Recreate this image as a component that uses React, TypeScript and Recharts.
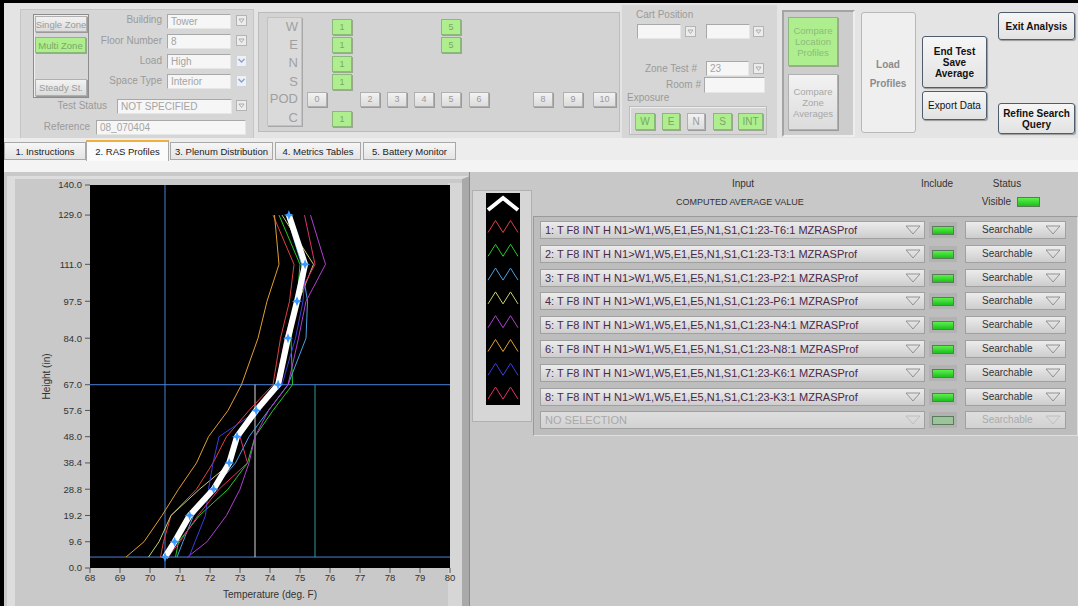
import React from "react";
import { LineChart, Line, XAxis, YAxis, CartesianGrid, ReferenceLine, Label } from "recharts";

// profile heights (in) and temperatures (deg F)
const heights = [4, 9.6, 19.2, 28.8, 38.4, 48.0, 57.6, 67.0, 84.0, 97.5, 111.0, 129.0];
const averageTemps = [70.5, 70.82, 71.32, 72.12, 72.64, 72.9, 73.54, 74.27, 74.6, 74.9, 75.17, 74.63];
const t6Temps = [70.35, 70.45, 70.7, 71.55, 72.1, 72.55, 73.3, 74.1, 74.35, 74.65, 74.8, 74.1];
const t3Temps = [70.85, 70.95, 71.65, 72.6, 73.25, 73.5, 74.1, 74.75, 74.7, 74.9, 75.0, 74.3];
const p2Temps = [70.9, 71.1, 71.45, 72.1, 72.85, 73.3, 73.95, 74.6, 75.2, 75.25, 75.05, 74.55];
const p6Temps = [69.95, 70.3, 70.7, 71.65, 72.7, 72.95, 73.6, 74.3, 74.6, 74.95, 75.45, 74.4];
const n4Temps = [71.25, 71.9, 72.55, 73.0, 73.3, 73.5, 73.95, 74.6, 74.95, 75.2, 75.85, 75.35];
const n8Temps = [69.2, 69.8, 70.4, 70.95, 71.55, 71.95, 72.6, 73.05, 73.6, 73.9, 74.3, 74.15];
const k6Temps = [71.3, 71.5, 71.85, 71.95, 72.1, 72.3, 73.6, 74.4, 74.85, 75.1, 75.2, 74.6];
const k3Temps = [70.6, 71.0, 71.6, 72.3, 73.25, 73.0, 73.5, 74.2, 74.5, 74.85, 75.5, 75.15];

const profileNames = [
  "1: T F8 INT H N1>W1,W5,E1,E5,N1,S1,C1:23-T6:1 MZRASProf",
  "2: T F8 INT H N1>W1,W5,E1,E5,N1,S1,C1:23-T3:1 MZRASProf",
  "3: T F8 INT H N1>W1,W5,E1,E5,N1,S1,C1:23-P2:1 MZRASProf",
  "4: T F8 INT H N1>W1,W5,E1,E5,N1,S1,C1:23-P6:1 MZRASProf",
  "5: T F8 INT H N1>W1,W5,E1,E5,N1,S1,C1:23-N4:1 MZRASProf",
  "6: T F8 INT H N1>W1,W5,E1,E5,N1,S1,C1:23-N8:1 MZRASProf",
  "7: T F8 INT H N1>W1,W5,E1,E5,N1,S1,C1:23-K6:1 MZRASProf",
  "8: T F8 INT H N1>W1,W5,E1,E5,N1,S1,C1:23-K3:1 MZRASProf",
];
const profileTemps = [t6Temps, t3Temps, p2Temps, p6Temps, n4Temps, n8Temps, k6Temps, k3Temps];
const seriesColors = ["#e04040", "#22cc22", "#4aa0e0", "#c8d070", "#b040d0", "#e0a030", "#3c3ce0", "#e0306a"];

const yTicks = [0, 9.6, 19.2, 28.8, 38.4, 48.0, 57.6, 67.0, 84.0, 97.5, 111.0, 129.0, 140.0];
const xTicks = [68, 69, 70, 71, 72, 73, 74, 75, 76, 77, 78, 79, 80];

// cursors on the graph
const cursorTemp = 70.5;
const cursorLow = 4;
const cursorHigh = 67;
const limitTemps = [73.5, 75.5];

const chartData = heights.map((h, i) => {
  const row: Record<string, number> = { h, avg: averageTemps[i] };
  profileTemps.forEach((t, k) => { row["s" + k] = t[i]; });
  return row;
});

const FONT = "'Liberation Sans', Arial, sans-serif";

function abs(x: number, y: number, w: number, h: number, extra: React.CSSProperties = {}): React.CSSProperties {
  return { position: "absolute", left: x, top: y, width: w, height: h, boxSizing: "border-box", ...extra };
}

const center: React.CSSProperties = { display: "flex", alignItems: "center", justifyContent: "center", textAlign: "center" };

function Txt({ x, y, text, size = 10, color = "#9a9a9a", align = "right", w = 100, bold = false }: any) {
  const left = align === "right" ? x - w : align === "center" ? x - w / 2 : x;
  return (
    <div style={abs(left, y - 7, w, 14, { fontSize: size, color, textAlign: align, lineHeight: "14px", whiteSpace: "nowrap", fontWeight: bold ? "bold" : "normal" })}>
      {text}
    </div>
  );
}

function Field({ x, y, w, h = 15, text = "" }: any) {
  return (
    <div style={abs(x, y, w, h, {
      background: "#f6f6f6", border: "1px solid", borderColor: "#a8a8a8 #e6e6e6 #e6e6e6 #a8a8a8",
      fontSize: 10, color: "#a4a4a4", paddingLeft: 3, lineHeight: h - 2 + "px", whiteSpace: "nowrap",
    })}>{text}</div>
  );
}

function RingArrow({ x, y }: any) {
  return (
    <div style={abs(x, y, 11, 11, { background: "#ececec", border: "1px solid #b4b4b4" })}>
      <svg width={9} height={9} style={{ position: "absolute", left: 0, top: 0 }}>
        <path d="M2,3 L7,3 L4.5,6.5 Z" fill="none" stroke="#a0a0a0" strokeWidth={0.8} />
      </svg>
    </div>
  );
}

function ComboArrow({ x, y }: any) {
  return (
    <div style={abs(x, y, 11, 12, { background: "#eef0f4", border: "1px solid #d0d4dc" })}>
      <svg width={9} height={10} style={{ position: "absolute", left: 0, top: 0 }}>
        <polyline points="1.5,3 4.5,6 7.5,3" fill="none" stroke="#8aa0cc" strokeWidth={1.4} />
      </svg>
    </div>
  );
}

function GrayBtn({ x, y, w, h, text, size = 10, color = "#9a9a9a" }: any) {
  return (
    <div style={abs(x, y, w, h, {
      ...center, background: "linear-gradient(#f2f2f2, #dcdcdc)", border: "1px solid #b0b0b0",
      boxShadow: "1px 1px 0 #9a9a9a", fontSize: size, color, lineHeight: "11px", whiteSpace: "nowrap",
    })}>{text}</div>
  );
}

function GreenBtn({ x, y, w, h, text, size = 10, color = "#78a868" }: any) {
  return (
    <div style={abs(x, y, w, h, {
      ...center, background: "#aeee8e", border: "1px solid #8cb87c",
      boxShadow: "1px 1px 0 #9aa890", fontSize: size, color, lineHeight: "11px", whiteSpace: "nowrap",
    })}>{text}</div>
  );
}

function Button({ x, y, w, h, lines, bold = true, color = "#111", size = 10 }: any) {
  return (
    <div style={abs(x, y, w, h, {
      ...center, flexDirection: "column", background: "linear-gradient(#f6f6f6, #e2e2e2)",
      border: "1px solid #4e5c6c", borderRadius: 3, boxShadow: "1px 1px 1px #9a9a9a",
      fontSize: size, fontWeight: bold ? "bold" : "normal", color, lineHeight: "11px",
    })}>
      {lines.map((l: string) => <div key={l}>{l}</div>)}
    </div>
  );
}

function Triangle({ x, y, color = "#8a8a8a" }: any) {
  return (
    <svg width={16} height={12} style={{ position: "absolute", left: x, top: y }}>
      <path d="M1,2 L15,2 L8,10 Z" fill="none" stroke={color} strokeWidth={0.9} />
    </svg>
  );
}

function StarDot(props: any) {
  const { cx, cy, index } = props;
  if (cx == null || cy == null) return <g key={index} />;
  const r = 5, q = 1.4;
  const d = `M${cx},${cy - r} L${cx + q},${cy - q} L${cx + r},${cy} L${cx + q},${cy + q} L${cx},${cy + r} L${cx - q},${cy + q} L${cx - r},${cy} L${cx - q},${cy - q} Z`;
  return <path key={index} d={d} fill="#3a9cff" />;
}

function ProfileChart() {
  return (
    <LineChart
      width={460}
      height={431}
      data={chartData}
      layout="vertical"
      margin={{ top: 10, right: 20, left: 20, bottom: 8 }}
      style={{ fontFamily: FONT }}
    >
      <CartesianGrid fill="#000" horizontal={false} vertical={false} />
      <XAxis
        type="number"
        domain={[68, 80]}
        ticks={xTicks}
        interval={0}
        allowDataOverflow
        axisLine={false}
        tickSize={5}
        tickMargin={1}
        height={30}
        tickLine={{ stroke: "#555" }}
        tick={{ fontSize: 9.5, fill: "#333" }}
      >
        <Label value="Temperature (deg. F)" position="insideBottom" offset={0} style={{ fontSize: 10, fill: "#333" }} />
      </XAxis>
      <YAxis
        type="number"
        dataKey="h"
        domain={[0, 140]}
        ticks={yTicks}
        interval={0}
        reversed
        allowDataOverflow
        width={60}
        axisLine={false}
        tickSize={5}
        tickMargin={3}
        tickLine={{ stroke: "#555" }}
        tick={{ fontSize: 9.5, fill: "#333" }}
        tickFormatter={(v: number) => v.toFixed(1)}
      >
        <Label value="Height (in)" angle={-90} position="insideLeft" offset={16} style={{ fontSize: 10, fill: "#333", textAnchor: "middle" }} />
      </YAxis>
      <ReferenceLine x={cursorTemp} stroke="#4a80d8" strokeWidth={1} />
      <ReferenceLine y={cursorHigh} stroke="#4a80d8" strokeWidth={1} />
      <ReferenceLine y={cursorLow} stroke="#4a80d8" strokeWidth={1} />
      <ReferenceLine segment={[{ x: limitTemps[0], y: cursorLow }, { x: limitTemps[0], y: cursorHigh }]} stroke="#d8d8d8" />
      <ReferenceLine segment={[{ x: limitTemps[1], y: cursorLow }, { x: limitTemps[1], y: cursorHigh }]} stroke="#2f9a9a" />
      {profileTemps.map((_, k) => (
        <Line
          key={k}
          dataKey={"s" + k}
          type="linear"
          stroke={seriesColors[k]}
          strokeWidth={1}
          dot={false}
          activeDot={false}
          isAnimationActive={false}
        />
      ))}
      <Line
        dataKey="avg"
        type="linear"
        stroke="#ffffff"
        strokeWidth={6}
        dot={StarDot}
        activeDot={false}
        isAnimationActive={false}
      />
    </LineChart>
  );
}

function Legend() {
  const rowY = (i: number) => 33.5 + i * 23.8;
  return (
    <svg width={34} height={212} style={{ position: "absolute", left: 486, top: 193 }}>
      <polyline points="2,17 17,5 32,17" fill="none" stroke="#fff" strokeWidth={4} />
      {seriesColors.map((c, i) => {
        const cy = rowY(i);
        return (
          <polyline
            key={c}
            points={`2,${cy + 6} 9.5,${cy - 6} 17,${cy + 6} 24.5,${cy - 6} 32,${cy + 6}`}
            fill="none"
            stroke={c}
            strokeWidth={1}
          />
        );
      })}
    </svg>
  );
}

const podButtons = [
  { t: "0", x: 307 }, { t: "2", x: 360 }, { t: "3", x: 387 }, { t: "4", x: 414 }, { t: "5", x: 441 },
  { t: "6", x: 469 }, { t: "8", x: 533 }, { t: "9", x: 563 }, { t: "10", x: 593 },
];
const tabs = [
  { t: "1. Instructions", x: 4, w: 82 },
  { t: "2. RAS Profiles", x: 86, w: 83 },
  { t: "3. Plenum Distribution", x: 170, w: 103 },
  { t: "4. Metrics Tables", x: 275, w: 86 },
  { t: "5. Battery Monitor", x: 363, w: 93 },
];

export default function App() {
  const rowTop = (i: number) => Math.round(221 + i * 23.8);
  return (
    <div style={{ position: "fixed", left: 0, top: 0, width: 1078, height: 606, overflow: "hidden", background: "#e4e4e4", fontFamily: FONT }}>
      <div style={abs(0, 0, 1078, 3, { background: "#000" })} />
      <div style={abs(0, 0, 4, 606, { background: "#000" })} />

      {/* search settings */}
      <div style={abs(20, 9, 234, 130, { background: "#d6d6d6", border: "1px solid #c6c6c6" })} />
      <div style={abs(33, 14, 56, 84, { border: "1px solid #8c8c8c", boxShadow: "inset 1px 1px 0 #eee" })} />
      <GrayBtn x={35} y={16} w={52} h={16} text="Single Zone" size={9.5} />
      <GreenBtn x={35} y={37} w={51} h={16} text="Multi Zone" size={9.5} />
      <GrayBtn x={35} y={79} w={52} h={17} text="Steady St." size={9.5} />
      <Txt x={162} y={20} text="Building" />
      <Field x={167} y={14} w={64} text="Tower" />
      <RingArrow x={236} y={15} />
      <Txt x={162} y={41} text="Floor Number" />
      <Field x={167} y={34} w={64} text="8" />
      <RingArrow x={236} y={35} />
      <Txt x={162} y={61} text="Load" />
      <Field x={167} y={54} w={64} text="High" />
      <ComboArrow x={236} y={55} />
      <Txt x={162} y={81} text="Space Type" />
      <Field x={167} y={74} w={64} text="Interior" />
      <ComboArrow x={236} y={75} />
      <Txt x={107} y={106} text="Test Status" />
      <Field x={117} y={99} w={115} text="NOT SPECIFIED" />
      <RingArrow x={236} y={100} />
      <Txt x={90} y={127} text="Reference" />
      <Field x={96} y={120} w={150} text="08_070404" />

      {/* location grid */}
      <div style={abs(258, 12, 362, 120, { background: "#d3d3d3", border: "1px solid #bcbcbc" })} />
      <div style={abs(267, 17, 35, 109, { background: "#dadada", border: "1px solid #c2c2c2", boxShadow: "1px 1px 0 #a8a8a8" })} />
      {[["W", 27], ["E", 45], ["N", 63], ["S", 82], ["POD", 99], ["C", 118]].map(([t, y]) => (
        <Txt key={t as string} x={298} y={y} text={t} size={13} color="#a0a0a0" w={34} />
      ))}
      {[19, 37, 56, 74, 111].map((y) => <GreenBtn key={y} x={332} y={y} w={20} h={16} text="1" size={9} />)}
      {[19, 37].map((y) => <GreenBtn key={y} x={441} y={y} w={20} h={16} text="5" size={9} />)}
      {podButtons.map((b) => <GrayBtn key={b.t} x={b.x} y={92} w={b.t === "10" ? 23 : 20} h={15} text={b.t} size={9} />)}

      {/* cart position */}
      <div style={abs(622, 5, 155, 133, { background: "#d6d6d6" })} />
      <Txt x={636} y={15} text="Cart Position" align="left" />
      <Field x={637} y={24} w={44} h={15} />
      <RingArrow x={685} y={26} />
      <Field x={706} y={24} w={44} h={15} />
      <RingArrow x={753} y={26} />
      <Txt x={697} y={69} text="Zone Test #" />
      <Field x={706} y={61} w={43} h={15} text="23" />
      <RingArrow x={753} y={63} />
      <Txt x={701} y={85} text="Room #" />
      <Field x={704} y={77} w={61} h={16} />
      <Txt x={627} y={98} text="Exposure" align="left" />
      <div style={abs(629, 106, 138, 29, { border: "1px solid #bcbcbc", boxShadow: "inset 1px 1px 0 #eee" })} />
      <GreenBtn x={635} y={113} w={20} h={17} text="W" />
      <GreenBtn x={662} y={113} w={18} h={17} text="E" />
      <GrayBtn x={687} y={113} w={18} h={17} text="N" />
      <GreenBtn x={713} y={113} w={19} h={17} text="S" />
      <GreenBtn x={738} y={113} w={25} h={17} text="INT" />

      {/* compare */}
      <div style={abs(782, 10, 73, 127, { background: "#cdcdcd", border: "2px solid", borderColor: "#a4a4a4 #eeeeee #eeeeee #a4a4a4" })} />
      <GreenBtn x={788} y={17} w={50} h={49} text={<span>Compare<br />Location<br />Profiles</span>} size={9.5} color="#8cbc7c" />
      <GrayBtn x={788} y={74} w={50} h={56} text={<span>Compare<br />Zone<br />Averages</span>} size={9.5} color="#a8a8a8" />
      <div style={abs(861, 12, 55, 121, { background: "#efefef", border: "1px solid #b8b8b8", borderRadius: 3 })} />
      <Txt x={888} y={65} text="Load" align="center" bold color="#8c8c8c" w={54} />
      <Txt x={888} y={84} text="Profiles" align="center" bold color="#8c8c8c" w={54} />
      <Button x={922} y={36} w={65} h={52} lines={["End Test", "Save", "Average"]} />
      <Button x={922} y={91} w={65} h={29} lines={["Export Data"]} bold={false} />
      <Button x={998} y={12} w={77} h={28} lines={["Exit Analysis"]} />
      <Button x={998} y={103} w={77} h={31} lines={["Refine Search", "Query"]} />

      {/* tabs */}
      <div style={abs(4, 138, 1074, 23, { background: "#ededed" })} />
      <div style={abs(4, 160, 1074, 12, { background: "#f4f4f4" })} />
      {tabs.map((t, i) => {
        const sel = i === 1;
        return (
          <div key={t.t} style={abs(t.x, sel ? 140 : 142, t.w, sel ? 21 : 18, {
            ...center, background: sel ? "#fbfbfb" : "linear-gradient(#f6f6f6, #e4e4e4)",
            border: "1px solid #a8a8a8", borderBottom: sel ? "none" : "1px solid #a8a8a8",
            borderTop: sel ? "2px solid #f0b040" : "1px solid #a8a8a8",
            fontSize: 9.5, color: "#222", whiteSpace: "nowrap",
          })}>{t.t}</div>
        );
      })}

      {/* tab page */}
      <div style={abs(4, 172, 1074, 434, { background: "#c9c9c9" })} />
      <div style={abs(7, 176, 463, 430, { background: "#c9c9c9", borderLeft: "8px solid #dddddd", borderTop: "3px solid #dddddd", borderRight: "8px solid #a9a9a9" })} />
      <div style={abs(448, 183, 14, 423, { background: "#d6d6d6" })} />
      <div style={{ position: "absolute", left: 10, top: 175 }}>
        <ProfileChart />
      </div>

      <div style={abs(469, 172, 609, 434, { background: "#c8c8c8", borderLeft: "1px solid #8a8a8a" })} />
      <div style={abs(472, 190, 60, 232, { background: "#d6d6d6", border: "1px solid #b0b0b0" })} />
      <div style={abs(486, 193, 34, 212, { background: "#000" })} />
      <Legend />

      <Txt x={743} y={184} text="Input" align="center" color="#333" />
      <Txt x={676} y={202} text="COMPUTED AVERAGE VALUE" align="left" size={9} color="#333" w={150} />
      <Txt x={937} y={184} text="Include" align="center" color="#333" />
      <Txt x={1007} y={184} text="Status" align="center" color="#333" />
      <Txt x={1011} y={202} text="Visible" color="#333" />
      <div style={abs(1017, 197, 23, 10, { background: "linear-gradient(#5cf04c, #1cc01c)", border: "1px solid #5a7a5a" })} />

      <div style={abs(533, 216, 545, 220, { background: "#bdbdbd", border: "1px solid", borderColor: "#9a9a9a #e0e0e0 #e0e0e0 #9a9a9a" })} />
      {[...profileNames, "NO SELECTION"].map((name, i) => {
        const top = rowTop(i);
        const off = i === profileNames.length;
        return (
          <React.Fragment key={name}>
            <div style={abs(540, top, 385, 18, {
              background: off ? "linear-gradient(#dedede, #d2d2d2)" : "linear-gradient(#ececec, #cdcdcd)",
              border: "1px solid #a0a0a0", fontSize: 11, color: off ? "#a8a8a8" : "#4a2848",
              paddingLeft: 4, lineHeight: "16px", whiteSpace: "nowrap",
            })}>{name}</div>
            <Triangle x={905} y={top + 3} color={off ? "#bbb" : "#8a8a8a"} />
            <div style={abs(929, top + 1, 28, 16, { background: "#b2b2b2" })} />
            <div style={abs(932, top + 5, 22, 9, {
              background: off ? "#9cc49c" : "linear-gradient(#5cf04c, #1cc01c)", border: "1px solid #5a7a5a",
            })} />
            <div style={abs(965, top, 101, 18, {
              background: off ? "linear-gradient(#dedede, #d2d2d2)" : "linear-gradient(#ececec, #cdcdcd)",
              border: "1px solid #a0a0a0", fontSize: 10, color: off ? "#aaa" : "#333",
              paddingLeft: 16, lineHeight: "16px",
            })}>Searchable</div>
            <Triangle x={1045} y={top + 3} color={off ? "#bbb" : "#8a8a8a"} />
          </React.Fragment>
        );
      })}
    </div>
  );
}
